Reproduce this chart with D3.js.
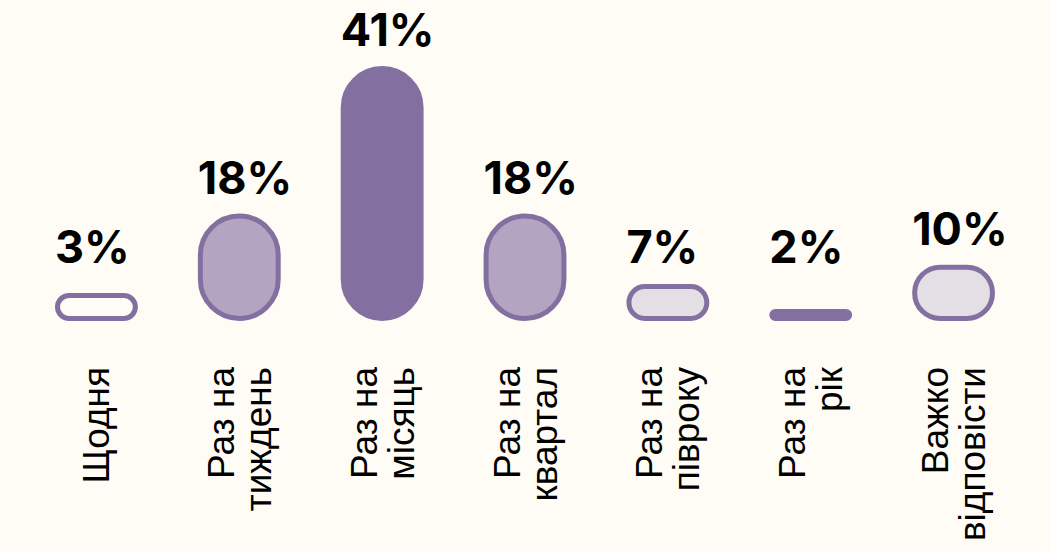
<!DOCTYPE html>
<html>
<head>
<meta charset="utf-8">
<script src="https://cdn.jsdelivr.net/npm/d3@7"></script>
<style>
  body { margin: 0; background: #fffcf5; }
  svg { display: block; }
</style>
</head>
<body>
<svg id="chart" width="1051" height="552"></svg>
<script>
// data
var categories = [
  "Щодня",
  "Раз на|тиждень",
  "Раз на|місяць",
  "Раз на|квартал",
  "Раз на|півроку",
  "Раз на|рік",
  "Важко|відповісти"
];
var values = [3, 18, 41, 18, 7, 2, 10];

// look
var bgColour = '#fffcf5';
var strokeColour = '#8470a0';
var strokeWidth = 5;
var baseY = 321;          // bottom edge of the pills
var labelTop = 367;       // where the rotated category text ends
var valueFont = "Inter, 'Open Sans', sans-serif";
var catFont = "'Liberation Sans', Arial, sans-serif";

// fill steps by share
var fillScale = d3.scaleThreshold()
  .domain([5, 15, 30])
  .range([bgColour, '#e4dfe5', '#b3a5c2', strokeColour]);

var svg = d3.select("#chart");

var x = d3.scaleBand()
  .domain(categories)
  .range([25, 1025])
  .paddingInner(0.42)
  .paddingOuter(0.21);

var h = d3.scaleLinear()
  .domain([1.25, 41])
  .range([0, 255]);

// the tiniest share is drawn as a flat solid line
function isFlat(v) {
  return v <= 2;
}

// outer pill height
function outerHeight(v) {
  return isFlat(v) ? 12 : Math.max(h(v), 28);
}

var bars = svg.selectAll("g.bar")
  .data(values)
  .enter().append("g")
  .attr("class", "bar");

bars.append("rect")
  .attr("x", function (d, i) { return x(categories[i]) + strokeWidth / 2; })
  .attr("y", function (d) { return baseY - outerHeight(d) + strokeWidth / 2; })
  .attr("width", x.bandwidth() - strokeWidth)
  .attr("height", function (d) { return outerHeight(d) - strokeWidth; })
  .attr("rx", function (d) {
    return Math.min(x.bandwidth() - strokeWidth, outerHeight(d) - strokeWidth) / 2;
  })
  .attr("ry", function (d) {
    return Math.min(x.bandwidth() - strokeWidth, outerHeight(d) - strokeWidth) / 2;
  })
  .attr("fill", function (d) { return isFlat(d) ? strokeColour : fillScale(d); })
  .attr("stroke", strokeColour)
  .attr("stroke-width", strokeWidth);

// value labels, start at the pill's left edge
bars.append("text")
  .attr("x", function (d, i) { return x(categories[i]); })
  .attr("y", function (d) {
    var top = baseY - outerHeight(d);
    return Math.min(top - 20, baseY - 58);
  })
  .attr("font-family", valueFont)
  .attr("font-weight", 700)
  .attr("font-size", 45)
  .attr("fill", "#000")
  .text(function (d) { return d + "%"; });

// rotated category labels
var lineGap = 37;
var cats = svg.selectAll("g.cat")
  .data(categories)
  .enter().append("g")
  .attr("class", "cat")
  .attr("transform", function (d) {
    return "translate(" + (x(d) + x.bandwidth() / 2) + "," + labelTop + ") rotate(-90)";
  });

cats.each(function (d) {
  var lines = d.split("|");
  var g = d3.select(this);
  // first baseline so the block sits centred on the bar
  var first = 13 - (lines.length - 1) * lineGap / 2;
  lines.forEach(function (line, k) {
    g.append("text")
      .attr("x", 0)
      .attr("y", first + k * lineGap)
      .attr("text-anchor", "end")
      .attr("font-family", catFont)
      .attr("font-size", 37)
      .attr("fill", "#000")
      .text(line);
  });
});
</script>
</body>
</html>
